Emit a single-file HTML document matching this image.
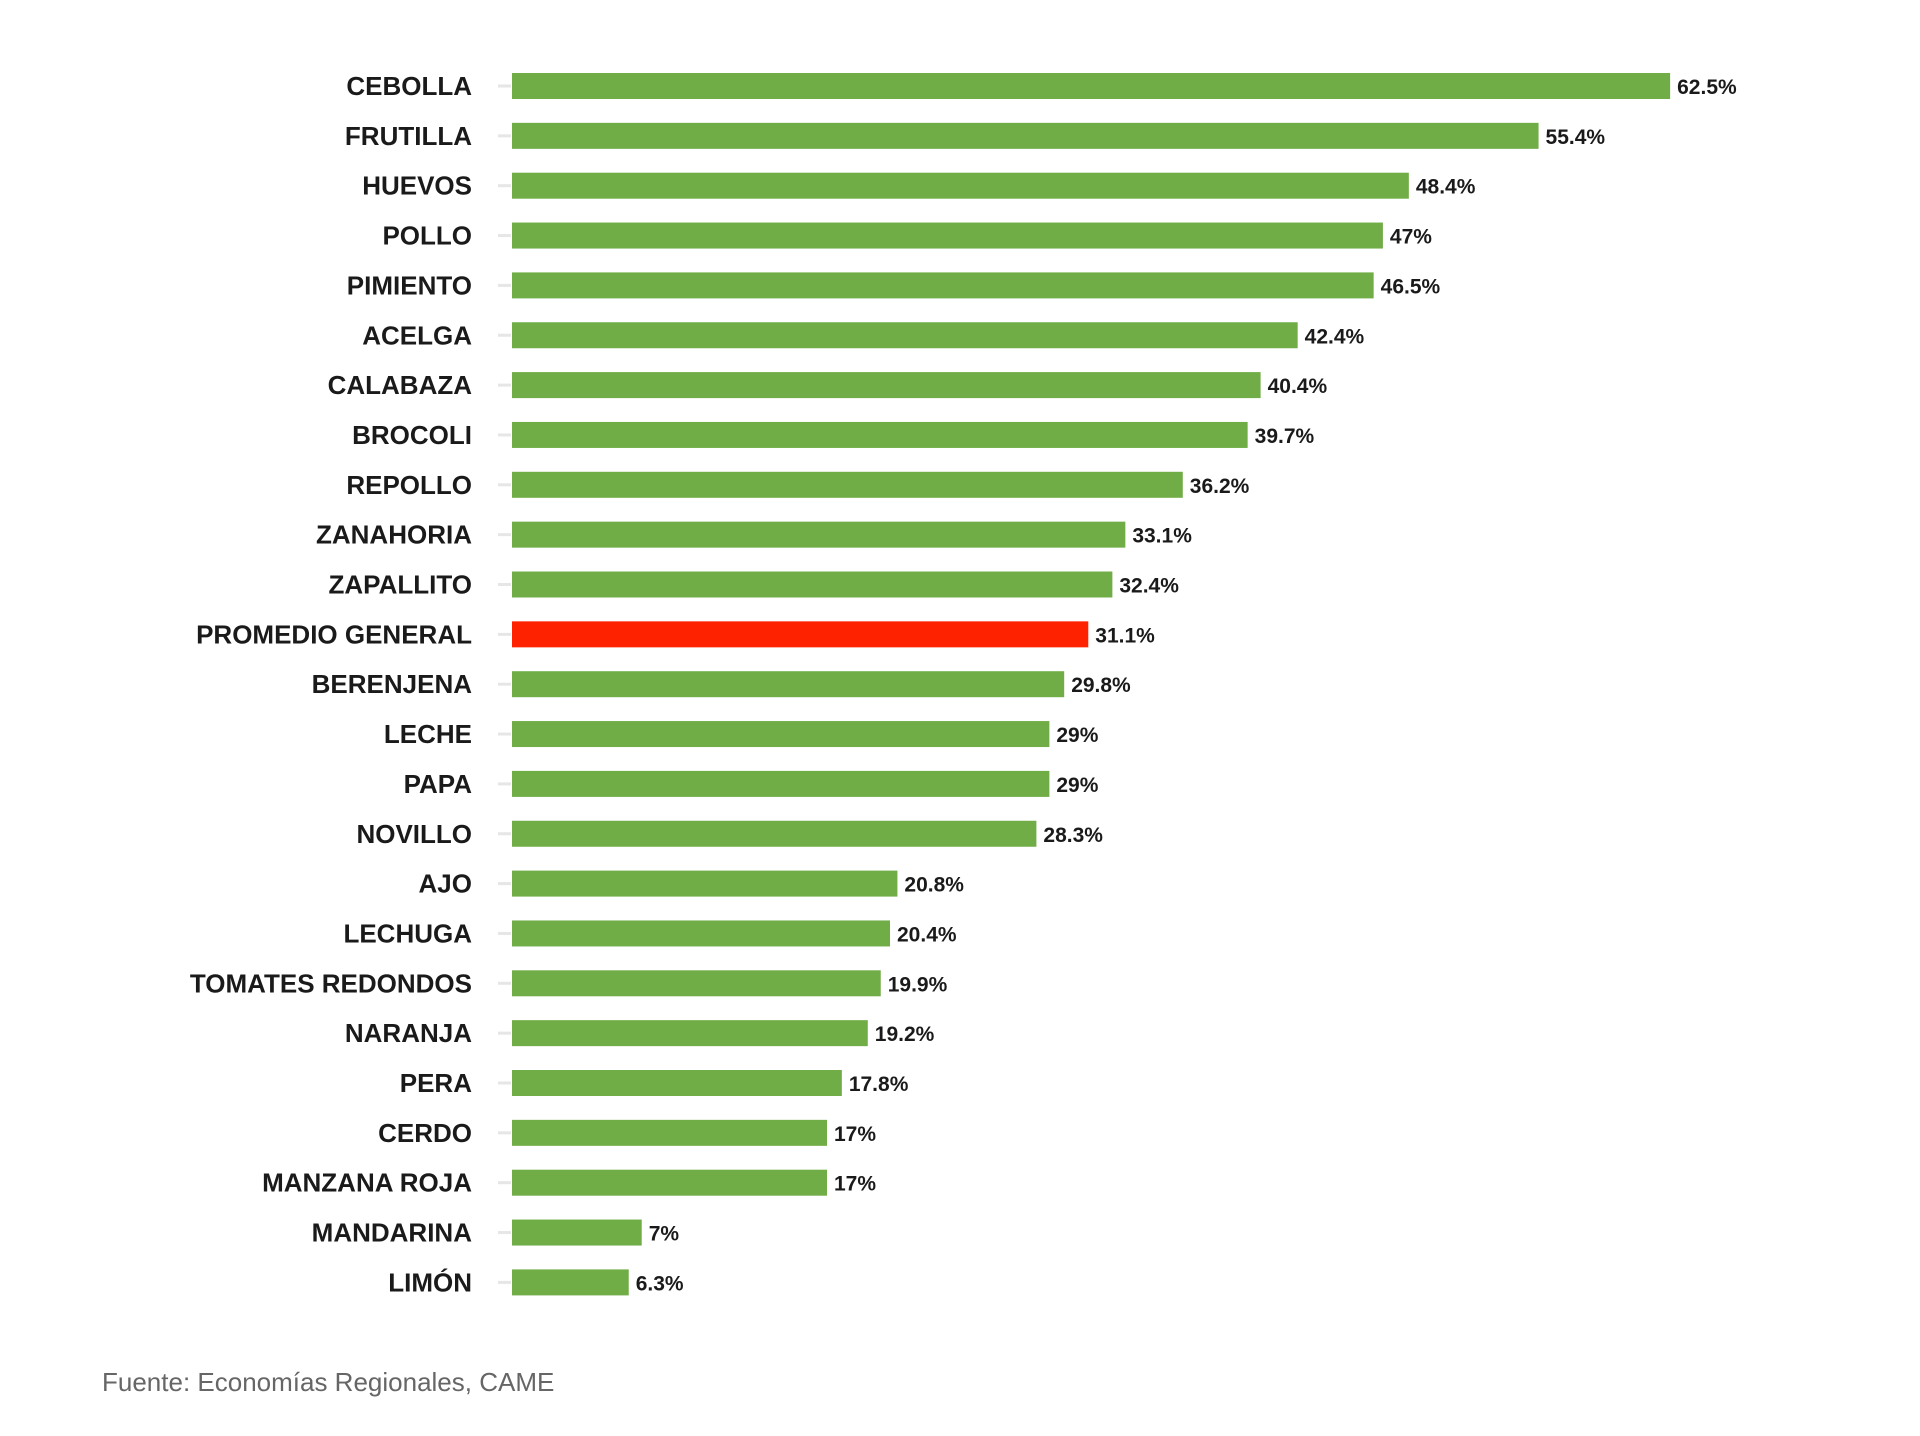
<!DOCTYPE html>
<html><head><meta charset="utf-8"><style>
html,body{margin:0;padding:0;background:#fff;width:1920px;height:1436px;overflow:hidden}
svg{display:block}
.lab{font-family:"Liberation Sans",sans-serif;font-weight:bold;font-size:26px;fill:#1a1a1a}
.val{font-family:"Liberation Sans",sans-serif;font-weight:bold;font-size:21px;fill:#1a1a1a}
.src{font-family:"Liberation Sans",sans-serif;font-size:26px;fill:#666}
</style></head><body>
<svg id="chart" width="1920" height="1436">
<text class="src" x="102" y="1391">Fuente: Economías Regionales, CAME</text>
</svg>
<script>
const categories=["CEBOLLA","FRUTILLA","HUEVOS","POLLO","PIMIENTO","ACELGA","CALABAZA","BROCOLI","REPOLLO","ZANAHORIA","ZAPALLITO","PROMEDIO GENERAL","BERENJENA","LECHE","PAPA","NOVILLO","AJO","LECHUGA","TOMATES REDONDOS","NARANJA","PERA","CERDO","MANZANA ROJA","MANDARINA","LIMÓN"];
const values=[62.5,55.4,48.4,47,46.5,42.4,40.4,39.7,36.2,33.1,32.4,31.1,29.8,29,29,28.3,20.8,20.4,19.9,19.2,17.8,17,17,7,6.3];
const valueLabels=["62.5%","55.4%","48.4%","47%","46.5%","42.4%","40.4%","39.7%","36.2%","33.1%","32.4%","31.1%","29.8%","29%","29%","28.3%","20.8%","20.4%","19.9%","19.2%","17.8%","17%","17%","7%","6.3%"];
const highlight="PROMEDIO GENERAL";
const NS="http://www.w3.org/2000/svg";
const svg=document.getElementById('chart');
const x0=512, pxPer=18.53, y0=73, pitch=49.85, bh=26;
function xs(v){return x0+v*pxPer;}
function ys(i){return y0+i*pitch;}
categories.forEach((c,i)=>{
  const y=ys(i);
  const tick=document.createElementNS(NS,'rect');
  tick.setAttribute('x',498);tick.setAttribute('y',y+bh/2-1.5);tick.setAttribute('width',13);tick.setAttribute('height',3);tick.setAttribute('fill','#e6e6e6');
  
  
  svg.appendChild(tick);
  const t=document.createElementNS(NS,'text');
  t.setAttribute('class','lab');t.setAttribute('x',472);t.setAttribute('y',y+bh/2+9);t.setAttribute('text-anchor','end');
  t.textContent=c;
  
  
  svg.appendChild(t);
  const r=document.createElementNS(NS,'rect');
  r.setAttribute('x',x0);r.setAttribute('y',y);r.setAttribute('width',xs(values[i])-x0);r.setAttribute('height',bh);
  r.setAttribute('fill',c===highlight?'#ff2200':'#71ad47');
  
  
  svg.appendChild(r);
  const v=document.createElementNS(NS,'text');
  v.setAttribute('class','val');v.setAttribute('x',xs(values[i])+7);v.setAttribute('y',y+bh/2+8);
  v.textContent=valueLabels[i];
  
  
  svg.appendChild(v);
});
</script>
</body></html>
